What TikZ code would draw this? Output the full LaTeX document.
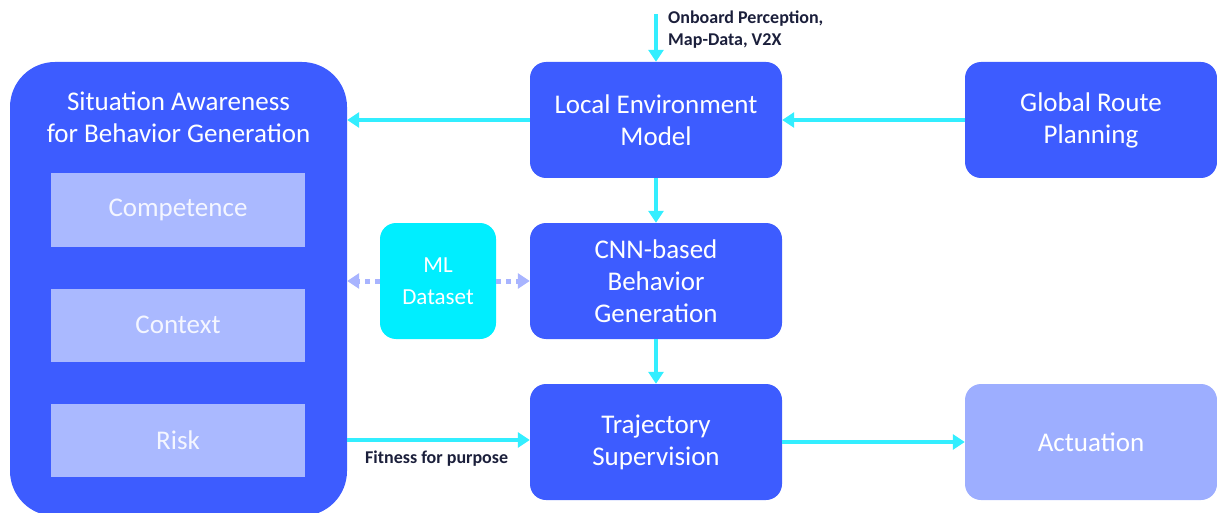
\documentclass[tikz,border=0pt]{standalone}
\usepackage{fontspec}
\setmainfont{Carlito}
\usetikzlibrary{arrows.meta}
\definecolor{mainblue}{HTML}{3D5CFF}
\definecolor{lightblue}{HTML}{AAB9FF}
\definecolor{actblue}{HTML}{9DAEFF}
\definecolor{cyanbox}{HTML}{00EEFF}
\definecolor{arrcyan}{HTML}{33EEFF}
\definecolor{dotblue}{HTML}{A8B4FF}
\definecolor{labeldark}{HTML}{1B1F3B}
\definecolor{paletext}{HTML}{F4F6FF}
\tikzset{
  box/.style={draw=none, fill=mainblue, rounded corners=16pt, minimum width=252pt, minimum height=116pt, inner sep=0pt, text=white, align=center, font=\fontsize{27}{32}\selectfont},
  inbox/.style={draw=none, fill=lightblue, minimum width=254pt, minimum height=73pt, inner sep=0pt, text=paletext, font=\fontsize{27}{32}\selectfont},
  flow/.style={draw=arrcyan, line width=4pt, -{Triangle[length=12pt,width=15pt]}},
  dotflow/.style={draw=dotblue, line width=5pt, dash pattern=on 5pt off 5pt, -{Triangle[length=12pt,width=15pt]}},
  lbl/.style={text=labeldark, font=\fontsize{18}{22}\selectfont\bfseries, align=left, inner sep=0pt}
}
\begin{document}
\begin{tikzpicture}[x=1pt,y=-1pt]
\useasboundingbox (0,0) rectangle (1217,513);
% big left box
\node[draw=none, fill=mainblue, rounded corners=45pt, minimum width=337pt, minimum height=454pt, inner sep=0pt] (sa) at (178.5,289) {};
\node[text=white, align=center, font=\fontsize{27}{32}\selectfont, inner sep=0pt] (satitle) at (178.5,117) {Situation Awareness\\for Behavior Generation};
\node[inbox] (comp) at (178,210) {Competence};
\node[inbox] (ctx) at (178,325) {Context};
\node[inbox] (risk) at (178,440) {Risk};
% right side boxes
\node[box] (lem) at (656,120) {Local Environment\\Model};
\node[box] (grp) at (1091,120) {Global Route\\Planning};
\node[box] (cnn) at (656,281) {CNN-based\\Behavior\\Generation};
\node[box] (traj) at (656,442) {Trajectory\\Supervision};
\node[box, fill=actblue] (act) at (1091,442) {Actuation};
\node[box, fill=cyanbox, minimum width=116pt, font=\fontsize{23}{32}\selectfont] (ml) at (438,281) {ML\\Dataset};
% input
\coordinate (in) at (656,14);
\draw[flow] (in) -- (lem.north);
\node[lbl, anchor=north west] (inlbl) at (668,11) {Onboard Perception,\\Map-Data, V2X};
% connectors
\draw[flow] (lem.west) -- (lem.west -| sa.east);
\draw[flow] (grp.west) -- (lem.east);
\draw[flow] (lem.south) -- (cnn.north);
\draw[flow] (cnn.south) -- (traj.north);
\draw[flow] (sa.east |- 0,440) -- (traj.west |- 0,440);
\node[lbl, anchor=north west] (fit) at (365,451) {Fitness for purpose};
\draw[flow] (traj.east) -- (act.west);
\draw[dotflow] (ml.west) -- (ml.west -| sa.east);
\draw[dotflow] (ml.east) -- (cnn.west);
\end{tikzpicture}
\end{document}
